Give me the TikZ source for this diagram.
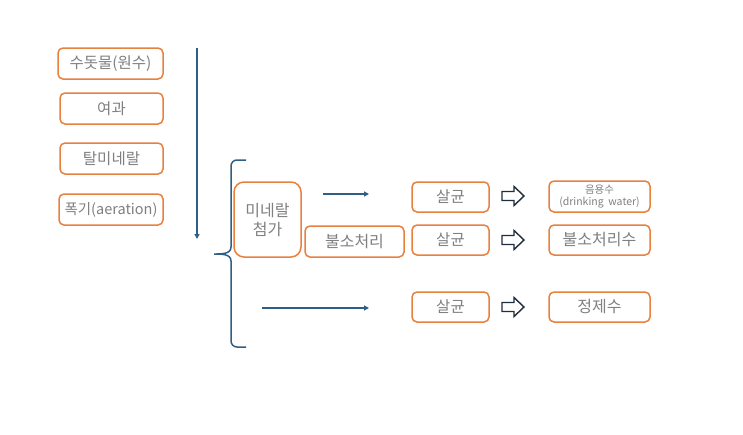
\documentclass[tikz,border=0pt]{standalone}
\usepackage{fontspec}
\setmainfont{Noto Sans CJK KR}
\usetikzlibrary{arrows.meta}
\definecolor{boxorange}{HTML}{E8803F}
\definecolor{txtgray}{HTML}{808080}
\definecolor{flowblue}{HTML}{2F5F84}
\definecolor{navy}{HTML}{1F2D3D}
\tikzset{
  box/.style={draw=boxorange, line width=1.5pt, rounded corners=5pt, inner sep=0pt,
    text=txtgray, font=\fontsize{15.5}{18}\selectfont, fill=white},
  flow/.style={draw=flowblue, line width=1.5pt, -{Triangle[length=5pt,width=5pt]}},
  brace/.style={draw=flowblue, line width=1.5pt},
  hollow/.style={draw=navy, line width=1.4pt, fill=white, line join=miter},
}
\begin{document}
\begin{tikzpicture}[x=1pt,y=-1pt]
\useasboundingbox (0,0) rectangle (743,434);
% left column
\node[box, minimum width=105pt, minimum height=31pt] (raw) at (110.5,63.5) {수돗물(원수)};
\node[box, minimum width=103pt, minimum height=31pt] (filt) at (111.5,108.5) {여과};
\node[box, minimum width=103pt, minimum height=31pt] (demin) at (111.5,158.5) {탈미네랄};
\node[box, minimum width=104pt, minimum height=31pt, font=\fontsize{14.5}{17}\selectfont] (aer) at (111,209.5) {폭기(aeration)};
\coordinate (vtop) at (197,48);
\coordinate (vbot) at (197,239);
\draw[flow] (vtop) -- (vbot);
% brace
\coordinate (btop) at (246,160);
\coordinate (btip) at (214,254);
\coordinate (bbot) at (246,347);
\draw[brace] (btop) -- (237,160) to[out=180,in=90] (231,166) -- (231,247)
  to[out=-90,in=0] (btip) to[out=0,in=90] (231,261) -- (231,341)
  to[out=-90,in=180] (237,347) -- (bbot);
% middle
\node[box, rounded corners=10pt, minimum width=67pt, minimum height=75pt, align=center,
  font=\fontsize{16}{19}\selectfont] (mineral) at (267.5,219.5) {미네랄\\첨가};
\node[box, minimum width=99pt, minimum height=31pt, font=\fontsize{16}{18}\selectfont] (fluor) at (354.5,241.5) {불소처리};
\coordinate (a1s) at (323,194);
\coordinate (a1e) at (369,194);
\draw[flow] (a1s) -- (a1e);
\coordinate (a3s) at (262,308);
\coordinate (a3e) at (369,308);
\draw[flow] (a3s) -- (a3e);
% sterilization
\node[box, minimum width=77pt, minimum height=30pt] (st1) at (450.5,197) {살균};
\node[box, minimum width=77pt, minimum height=30pt] (st2) at (450.5,240) {살균};
\node[box, minimum width=77pt, minimum height=30pt] (st3) at (450.5,307) {살균};
% results
\node[box, minimum width=101pt, minimum height=31pt, align=center,
  font=\fontsize{10.5}{12.5}\selectfont] (drink) at (599.5,196.5) {음용수\\(drinking~~water)};
\node[box, minimum width=101pt, minimum height=30pt, font=\fontsize{16}{18}\selectfont] (fw) at (599.5,240) {불소처리수};
\node[box, minimum width=101pt, minimum height=30pt, font=\fontsize{16}{18}\selectfont] (pw) at (599.5,307) {정제수};
% hollow arrows
\foreach \yy/\nm in {196/h1, 240/h2, 307/h3}{
  \coordinate (\nm) at (502,\yy);
  \draw[hollow] (\nm) ++(0,-4.5) -- ++(12,0) -- ++(0,-5) -- ++(10,9.5) -- ++(-10,9.5) -- ++(0,-5) -- ++(-12,0) -- cycle;
}
\end{tikzpicture}
\end{document}
